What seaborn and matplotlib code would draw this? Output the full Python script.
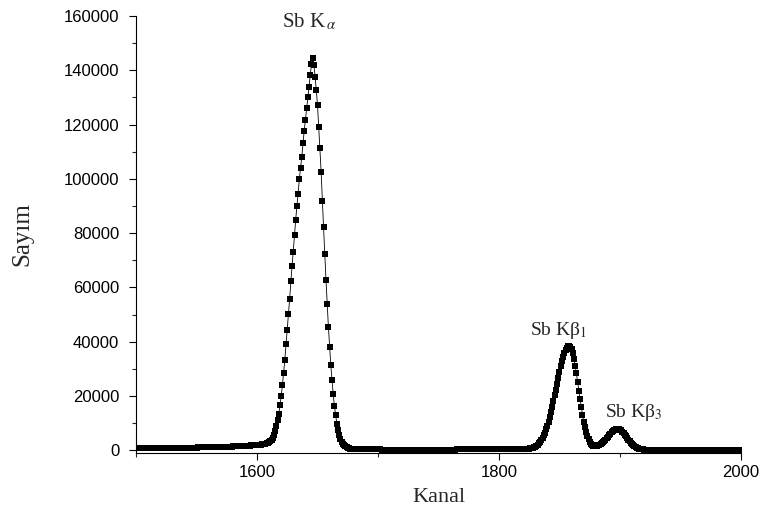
import numpy as np
import matplotlib
matplotlib.use('Agg')
import matplotlib.pyplot as plt
import seaborn as sns
from matplotlib.ticker import MultipleLocator

# channel axis (one point per channel)
channel = np.arange(1500, 2001)

# counts, channel by channel
counts_1500 = [700, 705, 710, 715, 720, 725, 730, 735, 740, 745,
               750, 755, 760, 765, 770, 775, 780, 790, 795, 800,
               805, 810, 815, 820, 830, 835, 840, 845, 850, 860,
               865, 870, 880, 885, 890, 900, 905, 915, 920, 930,
               935, 945, 950, 960, 970, 975, 985, 995, 1005, 1015,
               1020, 1030, 1040, 1050, 1060, 1070, 1080, 1090, 1100, 1110,
               1120, 1135, 1145, 1155, 1170, 1180, 1195, 1205, 1220, 1235,
               1245, 1260, 1275, 1290, 1305, 1320, 1335, 1350, 1365, 1385,
               1400, 1420, 1440, 1460, 1480, 1500, 1520, 1545, 1570, 1595,
               1620, 1645, 1675, 1700, 1730, 1765, 1800, 1835, 1875, 1920]
counts_1600 = [1960, 2000, 2050, 2100, 2170, 2250, 2350, 2470, 2620, 2800,
               3050, 3400, 3900, 4700, 5800, 7200, 9000, 11100, 13500, 16600,
               19900, 24000, 28500, 33400, 39000, 44200, 50100, 55900, 62300, 67800,
               73100, 79300, 85000, 90100, 94600, 100000, 103900, 108100, 113100, 117700,
               121700, 126000, 130000, 133900, 138200, 142300, 144500, 142000, 137600, 132700,
               127200, 119200, 111200, 102600, 91900, 82100, 72300, 62900, 53800, 45500,
               38100, 31300, 25800, 20600, 16200, 12900, 9800, 7400, 5500, 4100,
               3000, 2300, 1800, 1400, 1100, 900, 750, 650, 570, 510,
               470, 440, 420, 400, 385, 370, 360, 350, 340, 335,
               330, 325, 320, 315, 310, 305, 300, 300, 295, 290]
counts_1700 = [290, 288, 286, 285, 283, 282, 280, 279, 278, 277,
               276, 275, 274, 273, 272, 271, 270, 270, 269, 268,
               268, 267, 266, 266, 265, 265, 264, 264, 263, 263,
               262, 262, 262, 261, 261, 261, 260, 260, 260, 260,
               260, 260, 260, 260, 261, 261, 261, 262, 262, 263,
               263, 264, 265, 266, 267, 268, 269, 270, 272, 274,
               276, 278, 280, 282, 284, 286, 288, 290, 292, 294,
               296, 298, 300, 302, 304, 306, 308, 310, 312, 314,
               316, 318, 320, 322, 324, 326, 328, 330, 332, 334,
               336, 338, 340, 342, 344, 346, 348, 350, 352, 354]
counts_1800 = [356, 358, 360, 362, 364, 366, 368, 370, 372, 374,
               376, 378, 380, 383, 386, 390, 394, 400, 408, 420,
               440, 470, 500, 540, 590, 650, 720, 830, 960, 1140,
               1390, 1700, 2080, 2550, 3100, 3770, 4560, 5470, 6520, 7750,
               9070, 10600, 12250, 14070, 16030, 18080, 20200, 22380, 24570, 26750,
               28880, 30890, 32760, 34420, 35830, 36970, 37810, 38330, 38500, 38200,
               37300, 35800, 33700, 31200, 28300, 25200, 22000, 18900, 15900, 13100,
               10600, 8500, 6700, 5200, 4000, 3100, 2450, 2000, 1750, 1620,
               1600, 1650, 1780, 1980, 2250, 2600, 3000, 3450, 3950, 4500,
               5050, 5600, 6100, 6550, 6950, 7300, 7550, 7700, 7780, 7750]
counts_1900 = [7600, 7300, 6900, 6400, 5800, 5150, 4500, 3850, 3250, 2700,
               2200, 1780, 1420, 1130, 890, 700, 560, 450, 370, 310,
               270, 240, 215, 200, 190, 185, 180, 178, 176, 174,
               172, 170, 168, 167, 166, 165, 164, 163, 162, 161,
               160, 159, 158, 157, 156, 155, 154, 153, 152, 151,
               150, 149, 148, 147, 146, 145, 144, 143, 142, 141,
               140, 139, 138, 137, 136, 135, 134, 133, 132, 131,
               130, 129, 128, 127, 126, 125, 124, 123, 122, 121,
               120, 120, 120, 120, 120, 120, 120, 120, 120, 120,
               120, 120, 120, 120, 120, 120, 120, 120, 120, 120,
               120]
counts = counts_1500 + counts_1600 + counts_1700 + counts_1800 + counts_1900

peak_labels = ['Sb K$_{\\,\\alpha}$', 'Sb K\u03b2$_{1}$', 'Sb K\u03b2$_{3}$']
label_x = [1621, 1826, 1888]
label_y = [155800, 42600, 12400]
label_size = [15, 14, 14]

sns.set_style('ticks')
plt.rcParams['font.family'] = ['Liberation Sans', 'DejaVu Sans']
plt.rcParams['mathtext.fontset'] = 'stix'

fig = plt.figure(figsize=(7.62, 5.14), dpi=100)
ax = fig.add_axes([0.1785, 0.1187, 0.7939, 0.8502])

sns.lineplot(x=channel, y=counts, ax=ax, color='black', linewidth=0.6,
             marker='s', markersize=4.6, markeredgewidth=0, markeredgecolor='black')

ax.set_xlim(1500, 2000)
ax.set_ylim(-1000, 160000)
ax.set_xticks([1600, 1800, 2000])
ax.xaxis.set_minor_locator(MultipleLocator(100))
ax.set_yticks(np.arange(0, 160001, 20000))
ax.yaxis.set_minor_locator(MultipleLocator(10000))
ax.tick_params(which='major', length=5, width=0.8, labelsize=12, colors='black')
ax.tick_params(axis='y', which='major', pad=7)
ax.tick_params(which='minor', length=2.6, width=0.8)
for s in ['left', 'bottom']:
    ax.spines[s].set_linewidth(0.8)
    ax.spines[s].set_color('black')
sns.despine(ax=ax)

ax.set_xlabel('Kanal', family='Liberation Serif', fontsize=16, labelpad=6)
ax.set_ylabel('Sayım', family='Liberation Serif', fontsize=18, labelpad=22)

for txt, x, y, fs in zip(peak_labels, label_x, label_y, label_size):
    ax.text(x, y, txt, family='Liberation Serif', fontsize=fs, ha='left', va='baseline')

fig.savefig('out.png', dpi=100)
